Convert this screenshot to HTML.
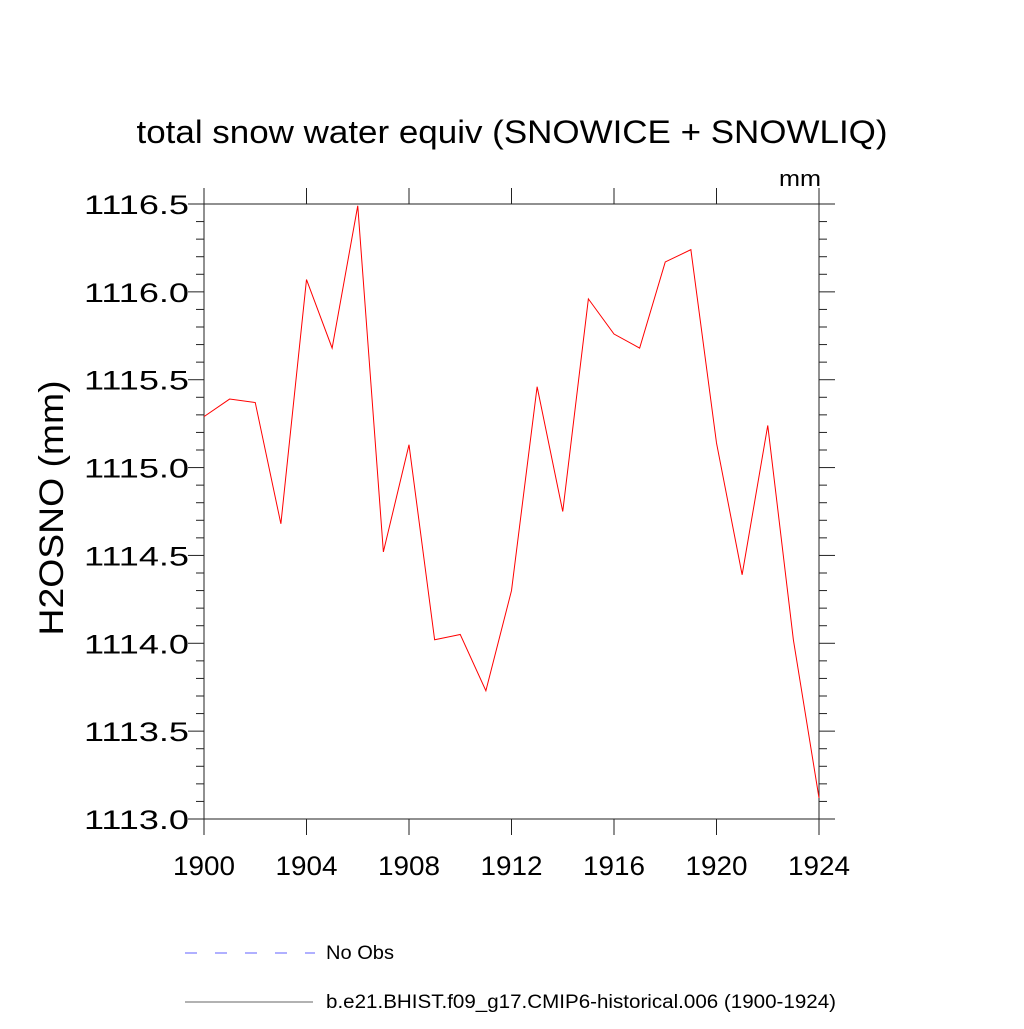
<!DOCTYPE html>
<html><head><meta charset="utf-8"><style>
body{margin:0;background:#fff;}
svg text{font-family:"Liberation Sans",sans-serif;}
</style></head><body>
<svg id="chart" width="1024" height="1024" xmlns="http://www.w3.org/2000/svg">
<text x="512" y="143" font-size="32" text-anchor="middle" textLength="751" lengthAdjust="spacingAndGlyphs">total snow water equiv (SNOWICE + SNOWLIQ)</text>
<text x="821" y="186" font-size="22" text-anchor="end" textLength="42" lengthAdjust="spacingAndGlyphs">mm</text>
<text transform="translate(63,508) rotate(-90)" font-size="34" text-anchor="middle" textLength="255" lengthAdjust="spacingAndGlyphs">H2OSNO  (mm)</text>
<g id="axes"></g>
<polyline id="series" fill="none" stroke="#ff0000" stroke-width="1"/>
<line x1="185" y1="953" x2="315" y2="953" stroke="#6060ff" stroke-width="1" stroke-dasharray="12,18"/>
<text x="326" y="959" font-size="19" textLength="68" lengthAdjust="spacingAndGlyphs">No Obs</text>
<line x1="185" y1="1002" x2="313" y2="1002" stroke="#666" stroke-width="1"/>
<text x="326" y="1008" font-size="19" textLength="510" lengthAdjust="spacingAndGlyphs">b.e21.BHIST.f09_g17.CMIP6-historical.006 (1900-1924)</text>
</svg>
<script>
const years=[1900,1901,1902,1903,1904,1905,1906,1907,1908,1909,1910,1911,1912,1913,1914,1915,1916,1917,1918,1919,1920,1921,1922,1923,1924];
const values=[1115.29,1115.39,1115.37,1114.68,1116.07,1115.68,1116.49,1114.52,1115.13,1114.02,1114.05,1113.73,1114.30,1115.46,1114.75,1115.96,1115.76,1115.68,1116.17,1116.24,1115.14,1114.39,1115.24,1114.02,1113.12];
const xTicks=[1900,1904,1908,1912,1916,1920,1924];
const yTicks=[1113.0,1113.5,1114.0,1114.5,1115.0,1115.5,1116.0,1116.5];
const L=204,R=819,T=204,B=819,X0=1900,X1=1924,Y0=1113,Y1=1116.5;
const xs=v=>L+(v-X0)/(X1-X0)*(R-L);
const ys=v=>B-(v-Y0)/(Y1-Y0)*(B-T);
const NS="http://www.w3.org/2000/svg";
const ax=document.getElementById('axes');
function ln(x1,y1,x2,y2,name,w){const e=document.createElementNS(NS,'line');
e.setAttribute('x1',x1);e.setAttribute('y1',y1);e.setAttribute('x2',x2);e.setAttribute('y2',y2);
e.setAttribute('stroke','#222');e.setAttribute('stroke-width',w||1);


ax.appendChild(e);}
function tx(x,y,s,anchor,name,len){const e=document.createElementNS(NS,'text');
e.setAttribute('x',x);e.setAttribute('y',y);e.setAttribute('font-size','27');e.setAttribute('text-anchor',anchor);e.textContent=s;
e.setAttribute('textLength',len);e.setAttribute('lengthAdjust','spacingAndGlyphs');


ax.appendChild(e);}
ln(L,T,R,T,'plot-frame-top');ln(L,B,R,B,'plot-frame-bottom');ln(L,T,L,B,'plot-frame-left');ln(R,T,R,B,'plot-frame-right');
for(let v=Y0;v<=Y1+1e-6;v+=0.1){const y=ys(v);const maj=Math.abs(v*2-Math.round(v*2))<1e-6;
ln(maj?L-16:L-8,y,L,y,'y-tick');ln(R,y,maj?R+16:R+8,y,'y-tick-right');}
yTicks.forEach(v=>tx(L-15,ys(v)+10,v.toFixed(1),'end','y-tick-label',105));
xTicks.forEach(v=>{const x=xs(v);ln(x,B,x,B+16,'x-tick');ln(x,T-16,x,T,'x-tick-top');tx(x,B+56,String(v),'middle','x-tick-label',62);});
document.getElementById('series').setAttribute('points',years.map((y,i)=>xs(y)+','+ys(values[i])).join(' '));
</script>
</body></html>
